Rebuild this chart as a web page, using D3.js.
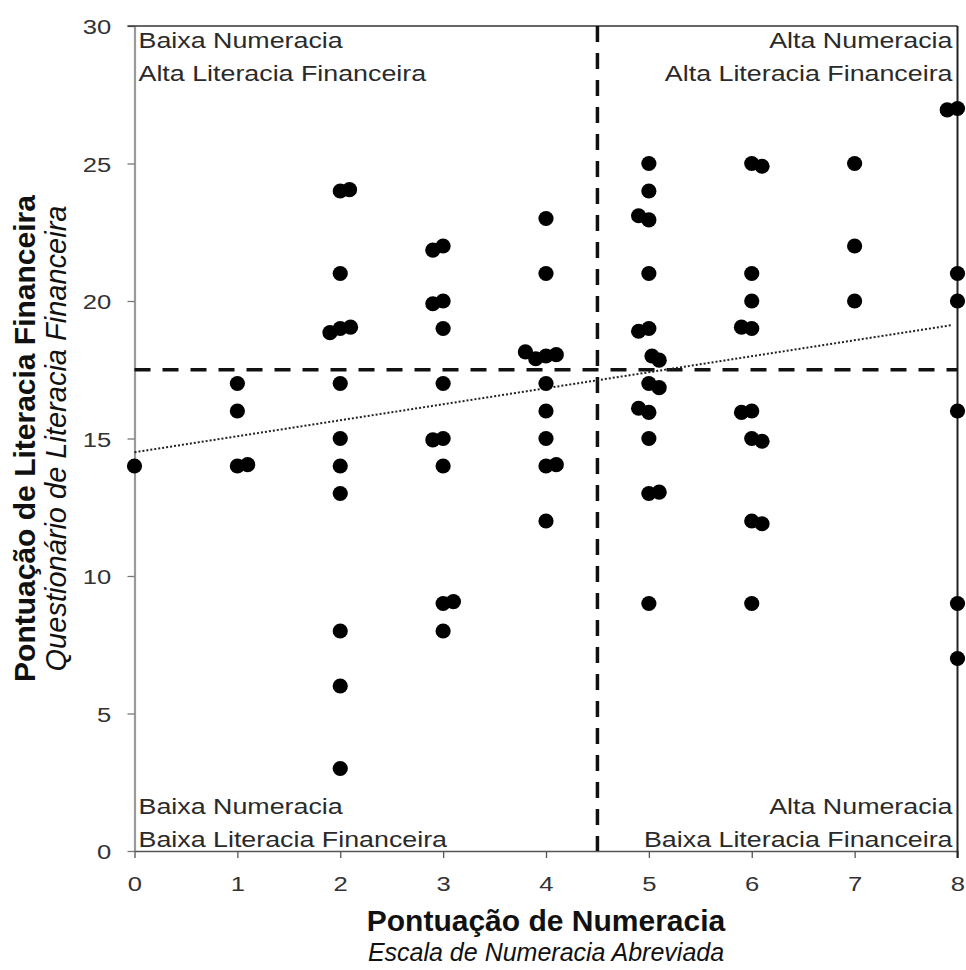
<!DOCTYPE html>
<html>
<head>
<meta charset="utf-8">
<script src="https://cdn.jsdelivr.net/npm/d3@7"></script>
<style>
  html, body { margin: 0; padding: 0; background: #fff; }
  svg { display: block; font-family: "Liberation Sans", Arial, sans-serif; }
</style>
</head>
<body>
<svg id="chart" width="966" height="970"></svg>
<script>
"use strict";

// numeracy score (x, with the small jitter of the original) / financial literacy score (y)
const numeracia = [
  0,
  1, 1, 1, 1.1,
  2, 2.09, 2, 1.9, 2, 2.1, 2, 2, 2, 2, 2, 2, 2,
  2.9, 3, 2.9, 3, 3, 3, 2.9, 3, 3, 3, 3.1, 3,
  4, 4, 3.8, 3.9, 4, 4.1, 4, 4, 4, 4, 4.1, 4,
  5, 5, 4.9, 5, 5, 4.9, 5, 5.03, 5.1, 5, 5.1, 4.9, 5, 5, 5, 5.1, 5,
  6, 6.1, 6, 6, 5.9, 6, 5.9, 6, 6, 6.1, 6, 6.1, 6,
  7, 7, 7,
  7.9, 8, 8, 8, 8, 8, 8
];
const literacia = [
  14,
  17, 16, 14, 14.05,
  24, 24.05, 21, 18.85, 19, 19.05, 17, 15, 14, 13, 8, 6, 3,
  21.85, 22, 19.9, 20, 19, 17, 14.95, 15, 14, 9, 9.07, 8,
  23, 21, 18.15, 17.9, 18, 18.05, 17, 16, 15, 14, 14.05, 12,
  25, 24, 23.1, 22.95, 21, 18.9, 19, 18, 17.85, 17, 16.85, 16.1, 15.95, 15, 13, 13.05, 9,
  25, 24.9, 21, 20, 19.05, 19, 15.95, 16, 15, 14.9, 12, 11.9, 9,
  25, 22, 20,
  26.95, 27, 21, 20, 16, 9, 7
];

const xTicks = [0, 1, 2, 3, 4, 5, 6, 7, 8];
const yTicks = [0, 5, 10, 15, 20, 25, 30];

// regression line end points and quadrant cut-offs
const trendX = [0, 7.94];
const trendY = [14.5, 19.12];
const cutNumeracia = 4.5;
const cutLiteracia = 17.5;

const quadrantTop = [["Baixa Numeracia", "Alta Literacia Financeira"], ["Alta Numeracia", "Alta Literacia Financeira"]];
const quadrantBottom = [["Baixa Numeracia", "Baixa Literacia Financeira"], ["Alta Numeracia", "Baixa Literacia Financeira"]];

const xTitle = "Pontuação de Numeracia";
const xSubtitle = "Escala de Numeracia Abreviada";
const yTitle = "Pontuação de Literacia Financeira";
const ySubtitle = "Questionário de Literacia Financeira";

let svg = d3.select("#chart");

let xScale = d3.scaleLinear().domain([0, 8]).range([134.5, 957.5]);
let yScale = d3.scaleLinear().domain([0, 30]).range([851, 26]);

let stretch = 1.22;   // the original text is drawn a bit wide

/* axes */
let yAxis = svg.append("g")
  .attr("transform", `translate(${xScale(0)},0)`)
  .call(d3.axisLeft(yScale).tickValues(yTicks).tickSize(7).tickSizeOuter(0));
yAxis.select(".domain").attr("stroke", "#9a9a9a").attr("stroke-width", 2.2);
yAxis.selectAll(".tick line").attr("stroke", "#777").attr("stroke-width", 1.3);
yAxis.selectAll(".tick text")
  .attr("x", -19)
  .attr("dy", "0.36em")
  .attr("transform", `scale(${stretch},1)`)
  .attr("fill", "#333")
  .style("font-size", "21px");

let xAxis = svg.append("g")
  .attr("transform", `translate(0,${yScale(0)})`)
  .call(d3.axisBottom(xScale).tickValues(xTicks).tickSize(7).tickSizeOuter(0));
xAxis.select(".domain").attr("stroke", "#555").attr("stroke-width", 1.6);
xAxis.selectAll(".tick line").attr("stroke", "#555").attr("stroke-width", 1.3);
xAxis.selectAll(".tick text")
  .attr("y", 40)
  .attr("dy", null)
  .attr("transform", `scale(${stretch},1)`)
  .attr("fill", "#333")
  .style("font-size", "21px");

// top and right frame
svg.append("line")
  .attr("x1", xScale(0) - 7).attr("x2", xScale(8))
  .attr("y1", yScale(30)).attr("y2", yScale(30))
  .attr("stroke", "#333").attr("stroke-width", 1.5);
svg.append("line")
  .attr("x1", xScale(8)).attr("x2", xScale(8))
  .attr("y1", yScale(30)).attr("y2", yScale(0) + 7)
  .attr("stroke", "#222").attr("stroke-width", 2);

/* cut-off lines */
svg.append("line")
  .attr("x1", xScale(0)).attr("x2", xScale(8))
  .attr("y1", yScale(cutLiteracia)).attr("y2", yScale(cutLiteracia))
  .attr("stroke", "#111").attr("stroke-width", 3.5)
  .attr("stroke-dasharray", "16,12");
svg.append("line")
  .attr("x1", xScale(cutNumeracia)).attr("x2", xScale(cutNumeracia))
  .attr("y1", yScale(30)).attr("y2", yScale(0))
  .attr("stroke", "#111").attr("stroke-width", 3.5)
  .attr("stroke-dasharray", "16,11");

/* trend line */
svg.append("path")
  .datum(d3.zip(trendX, trendY))
  .attr("d", d3.line().x(d => xScale(d[0])).y(d => yScale(d[1])))
  .attr("fill", "none")
  .attr("stroke", "#222")
  .attr("stroke-width", 2)
  .attr("stroke-dasharray", "2,2");

/* points */
svg.append("g")
  .selectAll("circle")
  .data(d3.zip(numeracia, literacia))
  .enter()
  .append("circle")
  .attr("cx", d => xScale(d[0]))
  .attr("cy", d => yScale(d[1]))
  .attr("r", 7.6)
  .attr("fill", "#000");

/* quadrant labels */
function stretchedText(x, y, str, anchor) {
  svg.append("text")
    .attr("transform", `translate(${x},${y}) scale(${stretch},1)`)
    .attr("text-anchor", anchor)
    .attr("fill", "#2a2a2a")
    .style("font-size", "22px")
    .text(str);
}
let leftX = xScale(0) + 4;
let rightX = xScale(8) - 5;
stretchedText(leftX, 47.5, quadrantTop[0][0], "start");
stretchedText(leftX, 80.5, quadrantTop[0][1], "start");
stretchedText(rightX, 47.5, quadrantTop[1][0], "end");
stretchedText(rightX, 80.5, quadrantTop[1][1], "end");
stretchedText(leftX, 814, quadrantBottom[0][0], "start");
stretchedText(leftX, 847, quadrantBottom[0][1], "start");
stretchedText(rightX, 814, quadrantBottom[1][0], "end");
stretchedText(rightX, 847, quadrantBottom[1][1], "end");

/* axis titles */
let midX = (xScale(0) + xScale(8)) / 2;
let midY = (yScale(0) + yScale(30)) / 2;

svg.append("text")
  .attr("x", midX).attr("y", 931)
  .attr("text-anchor", "middle")
  .style("font-size", "30px").style("font-weight", "bold")
  .attr("fill", "#111")
  .text(xTitle);
svg.append("text")
  .attr("x", midX).attr("y", 961)
  .attr("text-anchor", "middle")
  .style("font-size", "25px").style("font-style", "italic")
  .attr("fill", "#111")
  .text(xSubtitle);

svg.append("text")
  .attr("transform", `translate(35,${midY}) rotate(-90)`)
  .attr("text-anchor", "middle")
  .style("font-size", "30px").style("font-weight", "bold")
  .attr("fill", "#111")
  .text(yTitle);
svg.append("text")
  .attr("transform", `translate(66,${midY}) rotate(-90)`)
  .attr("text-anchor", "middle")
  .style("font-size", "29px").style("font-style", "italic")
  .attr("fill", "#111")
  .text(ySubtitle);
</script>
</body>
</html>
